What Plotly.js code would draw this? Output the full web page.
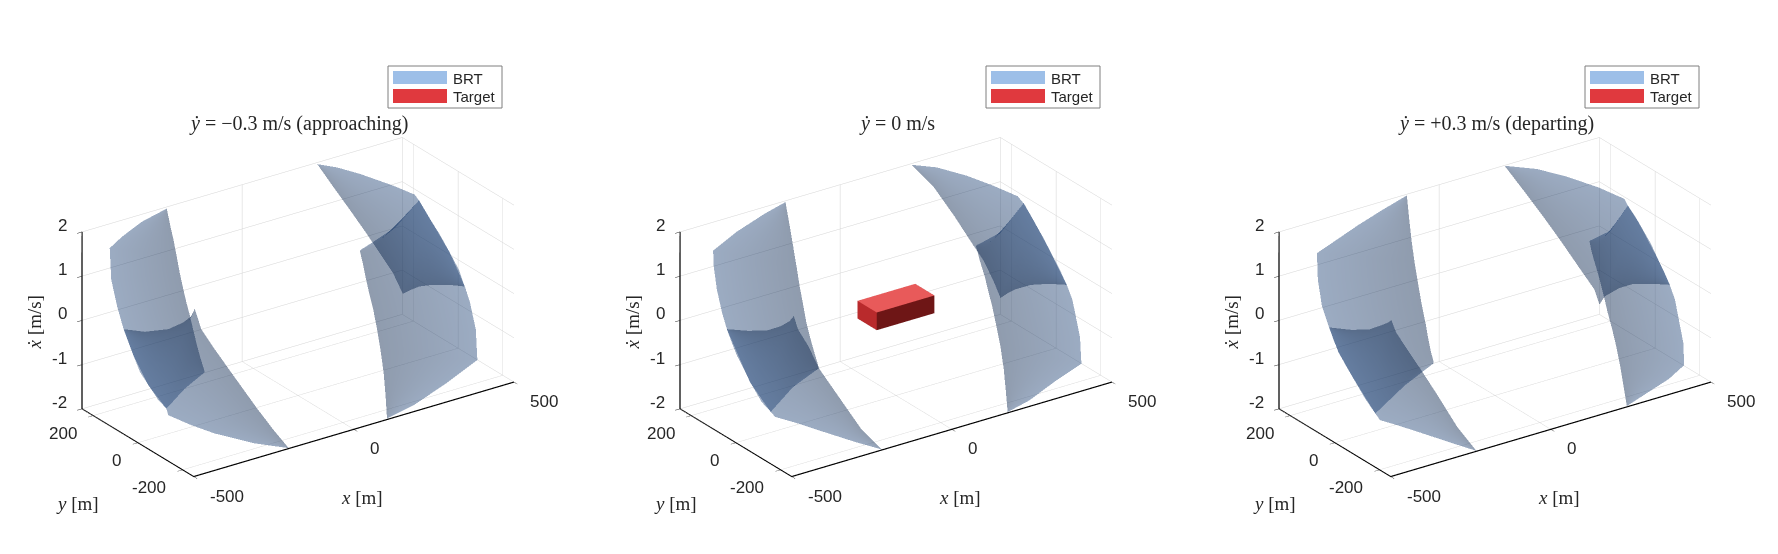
<!DOCTYPE html><html><head><meta charset="utf-8"><script src="https://cdn.plot.ly/plotly-3.0.1.min.js"></script><style>body{margin:0;background:#fff}</style></head><body><div id="g" style="width:1778px;height:554px"></div><script>
const titles=['<i>ẏ</i> = −0.3 m/s (approaching)','<i>ẏ</i> = 0 m/s','<i>ẏ</i> = +0.3 m/s (departing)'];
const xTicks=[-500,0,500],yTicks=[-200,0,200],zTicks=[-2,-1,0,1,2];
const legendNames=['BRT','Target'];
const targetX=[-90,90,90,-90,-90,90,90,-90],targetY=[-43,-43,43,43,-43,-43,43,43],targetZ=[-.2,-.2,-.2,-.2,.2,.2,.2,.2];
const p1LA=[[-241,242,2],[-236,234,1.64],[-224,236,1.27],[-219,229,.91],[-215,221,.55],[-208,215,.18],[-192,224,-.18],[-174,234,-.55],[-158,243,-.91],[-147,243,-1.27],[-132,248,-1.62],[-118,248,-1.98]];
const p1LB=[[-241,242,2],[-339,213,2],[-432,168,2],[-498,129,2],[-498,122,1.31],[-498,96,.79],[-498,67,.36],[-498,23,-.1],[-498,-44,-.57],[-498,-125,-.85],[-306,68,-1.4],[-118,248,-1.98]];
const p1LC=[[-443,145,0],[-407,101,0],[-349,80,0],[-295,91,0],[-255,111,0],[-223,143,0],[-234,97,-.3],[-229,45,-.6],[-221,-17,-.95],[-223,-137,-1.4],[-217,-202,-1.7],[-202,-248,-2]];
const p1LD=[[-443,145,0],[-448,116,-.2],[-453,87,-.4],[-450,62,-.7],[-432,50,-1],[-417,27,-1.3],[-383,40,-1.6],[-341,92,-2],[-327,9,-2],[-307,-66,-2],[-258,-173,-2],[-202,-248,-2]];
const p1RA=[[107,-245,-2],[129,-207,-1.64],[148,-171,-1.27],[161,-139,-.91],[173,-106,-.55],[177,-83,-.18],[180,-57,.18],[158,-77,.55],[133,-104,.91],[98,-148,1.27],[58,-199,1.64],[20,-248,1.99]];
const p1RB=[[107,-245,-2],[212,-217,-2],[360,-154,-2],[498,-89,-1.99],[498,-82,-1.32],[498,-55,-.77],[498,-33,-.5],[498,36,.07],[498,110,.48],[498,172,.82],[272,-51,1.4],[20,-248,1.99]];
const p1RC=[[421,-142,0],[394,-111,0],[360,-87,0],[326,-76,0],[298,-80,0],[266,-88,0],[271,-37,.3],[266,15,.6],[253,56,.95],[230,96,1.4],[229,169,1.7],[229,242,2]];
const p1RD=[[421,-142,0],[436,-96,.2],[448,-35,.4],[444,4,.7],[419,-3,1],[391,-21,1.3],[378,0,1.6],[328,-52,2],[314,24,2],[285,130,2],[259,197,2],[229,242,2]];
const p2LA=[[-175,244,2],[-186,211,1.64],[-201,172,1.27],[-208,147,.91],[-215,123,.55],[-214,109,.18],[-215,93,-.18],[-197,104,-.55],[-175,121,-.91],[-139,164,-1.27],[-104,204,-1.64],[-68,248,-2]];
const p2LB=[[-175,244,2],[-258,217,2],[-380,168,2],[-495,109,2],[-498,102,1.67],[-498,88,1.19],[-498,65,.74],[-498,43,.43],[-498,-60,-.45],[-498,-153,-.84],[-279,61,-1.4],[-68,248,-2]];
const p2LC=[[-432,138,0],[-393,98,0],[-349,72,0],[-306,74,0],[-272,86,0],[-246,105,0],[-237,99,-.3],[-227,68,-.6],[-230,13,-.95],[-214,-46,-1.4],[-234,-178,-1.7],[-217,-248,-2]];
const p2LD=[[-432,138,0],[-437,109,-.2],[-441,80,-.4],[-427,70,-.7],[-413,61,-1],[-412,11,-1.3],[-381,14,-1.6],[-328,71,-2],[-303,5,-2],[-284,-57,-2],[-248,-168,-2],[-217,-248,-2]];
const p2RA=[[177,-246,-2],[187,-224,-1.64],[206,-187,-1.27],[224,-146,-.91],[229,-121,-.55],[232,-98,-.18],[235,-71,.18],[208,-99,.55],[176,-133,.91],[144,-168,1.27],[109,-210,1.64],[76,-248,1.98]];
const p2RB=[[177,-246,-2],[263,-220,-2],[387,-161,-2],[498,-116,-1.99],[498,-110,-1.42],[498,-76,-.67],[498,-51,-.41],[498,42,.24],[498,94,.57],[498,142,.85],[267,-89,1.4],[76,-248,1.98]];
const p2RC=[[435,-140,0],[402,-109,0],[360,-88,0],[314,-87,0],[283,-95,0],[251,-108,0],[252,-73,.3],[254,-26,.6],[231,-14,.95],[221,53,1.4],[234,166,1.7],[219,244,2]];
const p2RD=[[435,-140,0],[438,-110,.2],[447,-59,.4],[444,-21,.7],[432,0,1],[406,-15,1.3],[382,-23,1.6],[333,-68,2],[318,21,2],[297,109,2],[263,194,2],[219,244,2]];
const p3LA=[[-105,244,2],[-120,213,1.64],[-138,176,1.27],[-151,144,.91],[-163,111,.55],[-173,80,.18],[-183,46,-.18],[-157,76,-.55],[-132,103,-.91],[-97,147,-1.27],[-55,201,-1.64],[-18,248,-1.99]];
const p3LB=[[-105,244,2],[-209,207,2],[-310,168,2],[-494,89,2],[-498,79,1.44],[-498,61,.9],[-498,29,.51],[-498,-13,.08],[-498,-72,-.26],[-498,-178,-.8],[-247,50,-1.4],[-18,248,-1.99]];
const p3LC=[[-419,141,0],[-380,96,0],[-340,73,0],[-302,76,0],[-279,79,0],[-263,87,0],[-250,84,-.3],[-242,42,-.6],[-231,-5,-.95],[-212,-47,-1.4],[-234,-166,-1.7],[-231,-248,-2]];
const p3LD=[[-419,141,0],[-422,118,-.2],[-424,92,-.4],[-405,91,-.7],[-385,90,-1],[-391,21,-1.3],[-375,-2,-1.6],[-327,46,-2],[-311,3,-2],[-288,-67,-2],[-260,-159,-2],[-231,-248,-2]];
const p3RA=[[240,-246,-2],[249,-218,-1.64],[254,-196,-1.27],[259,-171,-.91],[253,-162,-.55],[244,-155,-.18],[238,-146,.18],[230,-139,.55],[208,-156,.91],[181,-181,1.27],[150,-215,1.64],[122,-248,1.99]];
const p3RB=[[240,-246,-2],[322,-213,-2],[422,-173,-2],[498,-133,-1.97],[498,-129,-1.48],[498,-92,-.62],[498,-68,-.35],[498,16,.32],[498,67,.61],[498,119,.87],[295,-97,1.4],[122,-248,1.99]];
const p3RC=[[444,-146,0],[408,-113,0],[368,-88,0],[327,-88,0],[267,-108,0],[228,-141,0],[223,-126,.3],[210,-93,.6],[223,28,.95],[199,68,1.4],[203,163,1.7],[203,248,2]];
const p3RD=[[444,-146,0],[447,-116,.2],[456,-66,.4],[453,-27,.7],[439,-17,1],[411,-35,1.3],[385,-42,1.6],[340,-92,2],[326,-1,2],[296,103,2],[260,184,2],[203,248,2]];
const panels=[[[p1LA,p1LB],[p1LC,p1LD],[p1RA,p1RB],[p1RC,p1RD]],[[p2LA,p2LB],[p2LC,p2LD],[p2RA,p2RB],[p2RC,p2RD]],[[p3LA,p3LB],[p3LC,p3LD],[p3RA,p3RB],[p3RC,p3RD]]];

const W=1778,H=554,offs=[0,598,1197],ASP=1/1.26;
const col=(e,i)=>e.map(p=>p[i]);
const traces=[];
const layout={width:W,height:H,margin:{l:0,r:0,t:0,b:0},paper_bgcolor:'#fff',showlegend:false,annotations:[],shapes:[]};
const TF={family:'Liberation Sans',size:17,color:'#262626'},SF={family:'Liberation Serif',size:19,color:'#262626'};
panels.forEach((sheets,n)=>{
 const sid='scene'+(n?n+1:''),o=offs[n],cx=297.5+o;
 sheets.forEach(([a,b])=>traces.push({type:'surface',scene:sid,x:[col(a,0),col(b,0)],y:[col(a,1),col(b,1)],z:[col(a,2),col(b,2)],
   surfacecolor:[a.map(()=>1),b.map(()=>0)],colorscale:[[0,'rgb(35,70,120)'],[1,'rgb(8,35,75)']],cmin:0,cmax:1,showscale:false,opacity:.45,hoverinfo:'skip',
   lighting:{ambient:1,diffuse:0,specular:0,roughness:1,fresnel:0}}));
 const ax=(r,v)=>({range:r,tickvals:v,showbackground:false,showgrid:true,gridcolor:'#d4d4d4',showline:true,linecolor:'#000',linewidth:2.5,ticks:'outside',ticklen:6,tickcolor:'#222',showticklabels:false,zeroline:false,title:{text:''}});
 const ann=[];
 const A=(x,y,z,text,xa,xs,ys,font,extra)=>ann.push(Object.assign({x,y,z,text:String(text),showarrow:false,xanchor:xa,yanchor:'middle',xshift:xs,yshift:ys,font},extra||{}));
 xTicks.forEach(v=>A(v,-250,-2,v,'left',15,-19,TF));
 yTicks.forEach(v=>A(-500,v,-2,v,'right',-14,-17,TF));
 zTicks.forEach(v=>A(-500,250,v,v,'right',-13,7,TF));
 A(0,-250,-2,'<i>x</i> [m]','center',8.5,-68,SF);
 A(-500,0,-2,'<i>y</i> [m]','center',-60,-60,SF);
 A(-500,250,0,'<i>ẋ</i> [m/s]','center',-47,-2,SF,{textangle:-90});
 layout[sid]={domain:{x:[(cx-280)/W,(cx+280)/W],y:[.001,.889]},aspectmode:'manual',aspectratio:{x:2*ASP,y:ASP,z:ASP},
  camera:{projection:{type:'orthographic'},up:{x:0,y:0,z:1},center:{x:0,y:0,z:0},eye:{x:-.5179,y:-.7424,z:.4226}},
  xaxis:ax([-500,500],xTicks),yaxis:ax([-250,250],yTicks),zaxis:ax([-2,2],zTicks),annotations:ann};
 const px=v=>v/W,py=v=>1-v/H;
 layout.annotations.push({xref:'paper',yref:'paper',x:px(cx+1),y:py(124),text:titles[n],showarrow:false,xanchor:'center',yanchor:'middle',font:{family:'Liberation Serif',size:20,color:'#262626'}});
 const rect=(x0,y0,x1,y1,fill,line)=>layout.shapes.push({type:'rect',xref:'paper',yref:'paper',x0:px(x0),x1:px(x1),y0:py(y0),y1:py(y1),fillcolor:fill,line:line});
 rect(388+o,66,502+o,108,'#fff',{color:'#7f7f7f',width:1});
 rect(393+o,71,447+o,84,'#9dbfe8',{width:0});
 rect(393+o,89,447+o,103,'#e0393e',{width:0});
 legendNames.forEach((t,i)=>layout.annotations.push({xref:'paper',yref:'paper',x:px(451+o),y:py(78+18*i),text:t,showarrow:false,xanchor:'left',yanchor:'middle',font:{family:'Liberation Sans',size:15,color:'#262626'}}));
});
const fi=[0,0,4,4,0,0,3,3,0,0,1,1],fj=[1,2,5,6,1,5,2,6,3,7,2,6],fk=[2,3,6,7,5,4,6,7,7,4,6,5];
traces.push({type:'mesh3d',scene:'scene2',x:targetX,y:targetY,z:targetZ,i:fi,j:fj,k:fk,
 facecolor:['#5a1010','#5a1010','#e85a5a','#e85a5a','#6e1616','#6e1616','#8a1c1c','#8a1c1c','#b92a2c','#b92a2c','#6e1616','#6e1616'],
 lighting:{ambient:1,diffuse:0,specular:0,roughness:1,fresnel:0},flatshading:true,hoverinfo:'skip'});
Plotly.newPlot('g',traces,layout,{displayModeBar:false});
</script></body></html>
